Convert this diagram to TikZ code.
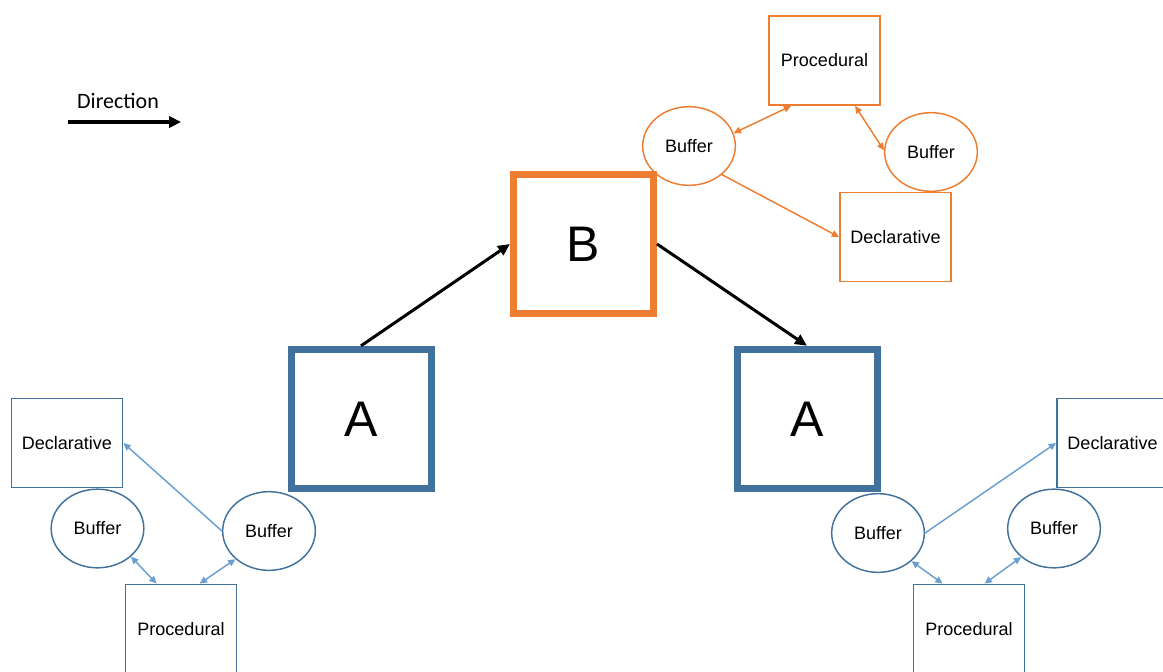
\documentclass[tikz,border=0pt]{standalone}
\usepackage{fontspec}
\setmainfont{Liberation Sans}
\newfontfamily\dirfont{Carlito}
\usetikzlibrary{arrows.meta,calc,shapes.geometric}
\definecolor{actorange}{HTML}{ED7D31}
\definecolor{stateblue}{HTML}{41719C}
\definecolor{linkblue}{HTML}{6A9FD2}
\begin{document}
\begin{tikzpicture}[x=0.75pt,y=-0.75pt,
  phase/.style={draw, rectangle, line width=5.25pt, minimum width=105pt,
    minimum height=104.5pt, inner sep=0pt, font=\fontsize{37.5}{40}\selectfont},
  module/.style={draw, rectangle, line width=1.1pt, minimum width=83.5pt,
    minimum height=67pt, inner sep=0pt, font=\fontsize{13.5}{16}\selectfont},
  buffer/.style={draw, ellipse, line width=1.1pt, minimum width=69.5pt,
    minimum height=59pt, inner sep=0pt, font=\fontsize{13.5}{16}\selectfont},
  link/.style={line width=1.1pt,
    {Triangle[length=5.5pt,width=5pt]}-{Triangle[length=5.5pt,width=5pt]}},
  feed/.style={line width=1.1pt, -{Triangle[length=5.5pt,width=5pt]}},
  flow/.style={line width=2.25pt, -{Triangle[length=9pt,width=8pt]}}]
\useasboundingbox (0,0) rectangle (1163,671);
\clip (0,0) rectangle (1163,671);

% direction legend
\node[font=\dirfont\fontsize{16.5}{18}\selectfont] (dirlabel) at (118,101) {Direction};
\coordinate (dirA) at (68,122);
\coordinate (dirB) at (181,122);
\draw[line width=2.8pt, -{Triangle[length=9pt,width=8.5pt]}] (dirA) -- (dirB);

% main phases
\node[phase, draw=stateblue] (lA) at (361,419) {A};
\node[phase, draw=actorange] (B) at (583.5,244) {B};
\node[phase, draw=stateblue] (rA) at (807,419) {A};

\draw[flow] (lA.north) -- (B.west);
\draw[flow] (B.east) -- (rA.north);

% orange cluster
\begin{scope}[every node/.append style={draw=actorange}, actorange]
\node[module] (oPr) at (824.5,60.5) {\textcolor{black}{Procedural}};
\node[buffer] (oBL) at (689,146) {\textcolor{black}{Buffer}};
\node[buffer] (oBR) at (931,152) {\textcolor{black}{Buffer}};
\node[module] (oDe) at (895.5,237) {\textcolor{black}{Declarative}};
\draw[link] (oBL.16) -- ($(oPr.south west)+(23,0)$);
\draw[link] ($(oPr.south west)+(87,0)$) -- (oBR.178);
\draw[feed] (oBL.-41) -- (oDe.west);
\end{scope}

% left blue cluster
\node[module, draw=stateblue] (lDe) at (67,443) {Declarative};
\node[buffer, draw=stateblue] (lBL) at (97.5,528.5) {Buffer};
\node[buffer, draw=stateblue] (lBR) at (269,531) {Buffer};
\node[module, draw=stateblue] (lPr) at (181,629) {Procedural};
\draw[feed, linkblue] (lBR.west) -- (lDe.east);
\draw[link, linkblue] (lBL.-40) -- ($(lPr.north west)+(32,0)$);
\draw[link, linkblue] ($(lPr.north west)+(75,0)$) -- (lBR.220);

% right blue cluster
\node[module, draw=stateblue] (rDe) at (1112.5,443) {Declarative};
\node[buffer, draw=stateblue] (rBL) at (878,533) {Buffer};
\node[buffer, draw=stateblue] (rBR) at (1054,528.5) {Buffer};
\node[module, draw=stateblue] (rPr) at (969,629) {Procedural};
\draw[feed, linkblue] (rBL.east) -- (rDe.west);
\draw[link, linkblue] (rBL.-40) -- ($(rPr.north west)+(30,0)$);
\draw[link, linkblue] ($(rPr.north west)+(72,0)$) -- (rBR.221);
\end{tikzpicture}
\end{document}
